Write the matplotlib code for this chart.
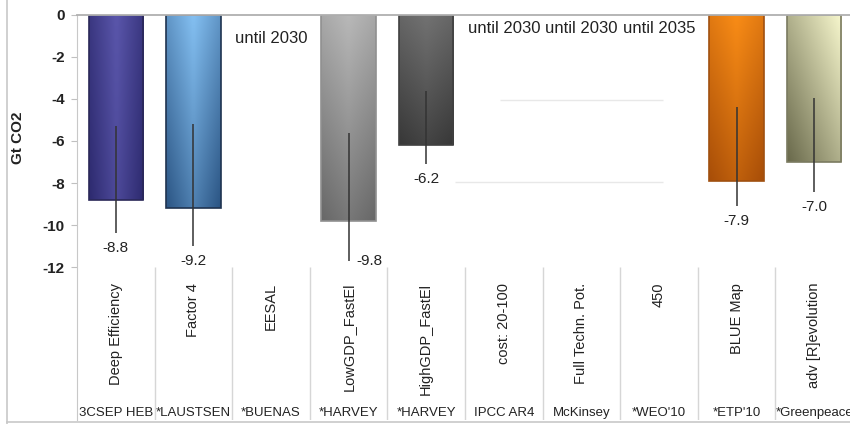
import numpy as np
import matplotlib.pyplot as plt
from matplotlib.colors import to_rgb
from matplotlib.lines import Line2D

plt.rcParams['font.family'] = ['Liberation Sans', 'DejaVu Sans']

scenarios = ['Deep Efficiency', 'Factor 4', 'EESAL', 'LowGDP_FastEl', 'HighGDP_FastEl',
             'cost: 20-100', 'Full Techn. Pot.', '450', 'BLUE Map', 'adv [R]evolution']
sources = ['3CSEP HEB', '*LAUSTSEN', '*BUENAS', '*HARVEY', '*HARVEY',
           'IPCC AR4', 'McKinsey', "*WEO'10", "*ETP'10", '*Greenpeace']
values = [-8.8, -9.2, np.nan, -9.8, -6.2, np.nan, np.nan, np.nan, -7.9, -7.0]
rng_hi = [-5.3, -5.2, np.nan, -5.6, -3.6, np.nan, np.nan, np.nan, -4.4, -3.95]
rng_lo = [-10.4, -11.0, np.nan, -11.7, -7.1, np.nan, np.nan, np.nan, -9.1, -8.45]
notes = {2: 'until 2030', 5: 'until 2030', 6: 'until 2030', 7: 'until 2035'}

# (light, dark, edge, vertical weight, horizontal mode)
styles = {
    0: ('#5a56ab', '#2e2b70', '#2a2858', 0.3, 'edges'),
    1: ('#84c0f2', '#2c5685', '#1f3350', 0.6, 'edges'),
    3: ('#b8b8b8', '#686868', '#909090', 0.8, 'edges'),
    4: ('#727272', '#383838', '#404040', 0.8, 'edges'),
    8: ('#f98c16', '#a84e08', '#a05010', 0.7, 'edges'),
    9: ('#f6f6cc', '#6a6a4c', '#7a7a60', 0.5, 'left'),
}

W, H = 850, 424
fig = plt.figure(figsize=(W / 100, H / 100), dpi=100)
ax = fig.add_axes([77 / W, 1 - 420 / H, (W - 77) / W, 405 / H])

bw = 0.70
x = np.arange(len(values))
for i, v in enumerate(values):
    if np.isnan(v):
        continue
    light, dark, edge, wv, mode = styles[i]
    vv = np.linspace(0, 1, 60)[:, None]
    hh = np.linspace(0, 1, 24)[None, :]
    hx = np.abs(2 * hh - 1) if mode == 'edges' else 1 - hh
    t = wv * vv + (1 - wv) * hx
    c1, c2 = np.array(to_rgb(light)), np.array(to_rgb(dark))
    img = c1 + (c2 - c1) * t[..., None]
    ax.imshow(img, extent=[i - bw / 2, i + bw / 2, v, 0], aspect='auto',
              interpolation='bilinear', zorder=2)
    ax.bar(i, v, width=bw, facecolor='none', edgecolor=edge, linewidth=1.2, zorder=3)
    ax.vlines(i, rng_lo[i], rng_hi[i], color='#333333', linewidth=1.1, zorder=4)
    if v < -9.5:
        ax.text(i + 0.27, rng_lo[i], f'{v:.1f}', ha='center', va='center',
                fontsize=11, color='#222222', zorder=5)
    else:
        ax.text(i, rng_lo[i] - 0.7, f'{v:.1f}', ha='center', va='center',
                fontsize=11, color='#222222', zorder=5)

for i, s in notes.items():
    ax.text(i, -1.1 if i == 2 else -0.62, s, ha='center', va='center', fontsize=12,
            color='#222222')

# faint ghost lines
ax.hlines([-4.05], 4.95, 7.05, color='#e8e8e8', linewidth=1)
ax.hlines([-7.95], 4.37, 7.05, color='#e8e8e8', linewidth=1)

# category area below the plot
ax.vlines(x[:-1] + 0.5, -19.3, -12, color='#d6d6d6', linewidth=1)
for i in x:
    ax.text(i, -12.76, scenarios[i], rotation=90, ha='center', va='top',
            fontsize=10.5, color='#222222')
    ax.text(i, -18.95, sources[i], ha='center', va='center', fontsize=9.5,
            color='#222222')

ax.axhline(0, color='#b0b0b0', linewidth=1.3, clip_on=False, zorder=6)
ax.set_xlim(-0.5, -0.5 + (W - 77) / 77.6)
ax.set_ylim(-405 / 21, 0)
ax.set_yticks(np.arange(0, -13, -2))
ax.set_yticklabels([str(t) for t in np.arange(0, -13, -2)], fontsize=11, fontweight='bold')
ax.set_xticks([])
ax.tick_params(axis='y', length=4, color='#c0c0c0', pad=5, labelcolor='#222222')
for s in ['top', 'right', 'bottom']:
    ax.spines[s].set_visible(False)
ax.spines['left'].set_color('#c8c8c8')

fig.text(18 / W, 1 - 138 / H, 'Gt CO2', rotation=90, ha='center', va='center',
         fontsize=11, fontweight='bold', color='#222222')
fig.add_artist(Line2D([7 / W, 7 / W], [0, 1], color='#c8c8c8', linewidth=1.2))
fig.add_artist(Line2D([7 / W, 1], [2 / H, 2 / H], color='#c8c8c8', linewidth=1.2))

fig.savefig('out.png', dpi=100)
